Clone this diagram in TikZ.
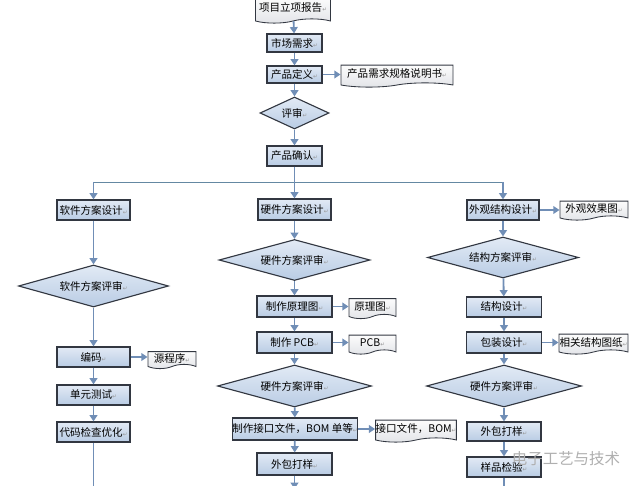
\documentclass[tikz,border=0pt]{standalone}
\usepackage{fontspec}
\setmainfont{Noto Sans CJK SC}
\newfontfamily\symbolfont{DejaVu Sans}
\usepackage{tikz}
\usetikzlibrary{arrows.meta,shapes.geometric,shapes.symbols}
\definecolor{colorboxtop}  {RGB}{226,234,245}
\definecolor{colorboxbot}  {RGB}{185,204,228}
\definecolor{colorpapertop}{RGB}{252,252,252}
\definecolor{colorpaperbot}{RGB}{226,228,232}
\definecolor{colorline}    {RGB}{50 ,55 ,65 }
\definecolor{colorflow}    {RGB}{112,142,182}
\definecolor{colorsplit}   {RGB}{100,136,162}
\definecolor{colorret}     {RGB}{150,150,150}
\definecolor{colormark}    {RGB}{175,175,175}
\newcommand{\px}{0.025cm}
\newcommand{\retmark}{{\symbolfont\fontsize{4}{4}\selectfont\color{colorret}↵}}

\begin{document}
\begin{tikzpicture}[
    x=\px, y=-\px,
    font={\fontsize{7.5}{9}\selectfont},
    box/.style={draw=colorline,line width=0.8pt,top color=colorboxtop,bottom color=colorboxbot,inner sep=0pt,align=center},
    proc/.style={box,rectangle,minimum width=#1*\px,minimum height=20*\px},
    review/.style={box,diamond,aspect=3.6,minimum width=#1*\px,minimum height=42*\px},
    paper/.style={draw=colorline,line width=0.6pt,top color=colorpapertop,bottom color=colorpaperbot,
                  tape,tape bend top=none,tape bend height=3pt,inner sep=0pt,
                  minimum width=#1*\px,minimum height=20*\px},
    flow/.style={draw=colorflow,line width=1.3pt,-{Triangle[width=5.5pt,length=4.5pt]}},
    trunk/.style={draw=colorflow,line width=1.3pt},
    split/.style={draw=colorsplit,line width=0.7pt},
]
    \useasboundingbox (0,0) rectangle (640,486);

    % project start
    \node[paper=75,minimum height=26*\px] at (293,8) (report) {项目立项报告\retmark};
    \node[proc=55,minimum height=18*\px] at (294.5,43) (market) {市场需求\retmark};
    \node[proc=55,minimum height=17*\px] at (294.5,74.5) (define) {产品定义\retmark};
    \node[paper=112,minimum height=22*\px] at (397,74) (spec) {产品需求规格说明书\retmark};
    \node[review=69,aspect=2.15,minimum height=32*\px] at (294.5,113) (check) {评审\retmark};
    \node[proc=55] at (294.5,156) (confirm) {产品确认\retmark};

    \coordinate (fork)  at (294.5,182);
    \coordinate (forkL) at (93.5,182);
    \coordinate (forkR) at (503,182);

    % software
    \node[proc=73] at (93.5,210) (swdesign) {软件方案设计\retmark};
    \node[review=150] at (93.5,286) (swreview) {软件方案评审\retmark};
    \node[proc=73] at (93.5,357) (coding) {编码\retmark};
    \node[paper=48,minimum height=17*\px] at (172,358) (source) {源程序\retmark};
    \node[proc=73] at (93.5,395) (unittest) {单元测试\retmark};
    \node[proc=73] at (93.5,432) (codecheck) {代码检查优化\retmark};
    \coordinate (swend) at (93.5,492);

    % hardware
    \node[proc=73,minimum height=21*\px] at (294.5,209.5) (hwdesign) {硬件方案设计\retmark};
    \node[review=151,minimum height=41*\px] at (294.5,260) (hwreview) {硬件方案评审\retmark};
    \node[proc=75,minimum height=21*\px] at (294.5,306.5) (schematic) {制作原理图\retmark};
    \node[paper=47] at (372.5,306.5) (schdoc) {原理图\retmark};
    \node[proc=75,minimum height=21*\px] at (294.5,342.5) (pcb) {制作 PCB\retmark};
    \node[paper=47,minimum height=19*\px] at (372.5,342.5) (pcbdoc) {PCB\retmark};
    \node[review=154] at (294.5,386) (hwreviewb) {硬件方案评审\retmark};
    \node[proc=124,minimum height=22*\px] at (295,429) (bom) {制作接口文件，BOM 单等\retmark};
    \node[paper=80,minimum height=22*\px] at (416,429) (bomdoc) {接口文件，BOM\retmark};
    \node[proc=75,minimum height=22*\px] at (294.5,464) (hwsample) {外包打样\retmark};
    \coordinate (hwend) at (294.5,489);

    % mechanics
    \node[proc=72] at (503,210) (medesign) {外观结构设计\retmark};
    \node[paper=68,minimum height=19*\px] at (594,208.5) (render) {外观效果图\retmark};
    \node[review=151,minimum height=41*\px] at (503,257.5) (mereview) {结构方案评审\retmark};
    \node[proc=75] at (504,307) (structure) {结构设计\retmark};
    \node[proc=75,minimum height=21*\px] at (504,342.5) (package) {包装设计\retmark};
    \node[paper=69] at (593.5,342) (drawings) {相关结构图纸\retmark};
    \node[review=155] at (504,386) (mereviewb) {硬件方案评审\retmark};
    \node[proc=74,minimum height=19*\px] at (504,431.5) (mesample) {外包打样\retmark};
    \node[proc=74] at (504,467) (inspect) {样品检验\retmark};
    \coordinate (meend) at (504,492);

    \draw[flow](report) to (market);
    \draw[flow](market) to (define);
    \draw[flow](define.east) to (spec.west |- define.east);
    \draw[flow](define) to (check);
    \draw[flow](check) to (confirm);
    \draw[trunk](confirm) to (fork);
    \draw[split](forkL) to (forkR);

    \draw[flow](forkL) to (swdesign);
    \draw[flow](swdesign) to (swreview);
    \draw[flow](swreview) to (coding);
    \draw[flow](coding.east) to (source.west |- coding.east);
    \draw[flow](coding) to (unittest);
    \draw[flow](unittest) to (codecheck);
    \draw[trunk](codecheck) to (swend);

    \draw[flow](fork) to (hwdesign);
    \draw[flow](hwdesign) to (hwreview);
    \draw[flow](hwreview) to (schematic);
    \draw[flow](schematic.east) to (schdoc.west |- schematic.east);
    \draw[flow](schematic) to (pcb);
    \draw[flow](pcb.east) to (pcbdoc.west |- pcb.east);
    \draw[flow](pcb) to (hwreviewb);
    \draw[flow](hwreviewb) to (bom);
    \draw[flow](bom.east) to (bomdoc.west |- bom.east);
    \draw[flow](bom) to (hwsample);
    \draw[flow](hwsample) to (hwend);

    \draw[flow](forkR) to (medesign);
    \draw[flow](medesign.east) to (render.west |- medesign.east);
    \draw[flow](medesign) to (mereview);
    \draw[flow](mereview) to (structure);
    \draw[flow](structure) to (package);
    \draw[flow](package.east) to (drawings.west |- package.east);
    \draw[flow](package) to (mereviewb);
    \draw[flow](mereviewb) to (mesample);
    \draw[flow](mesample) to (inspect);
    \draw[trunk](inspect) to (meend);

    \node[text=colormark,font={\fontsize{11}{11}\selectfont}] at (566,459) (mark) {电子工艺与技术};

\end{tikzpicture}
\end{document}
